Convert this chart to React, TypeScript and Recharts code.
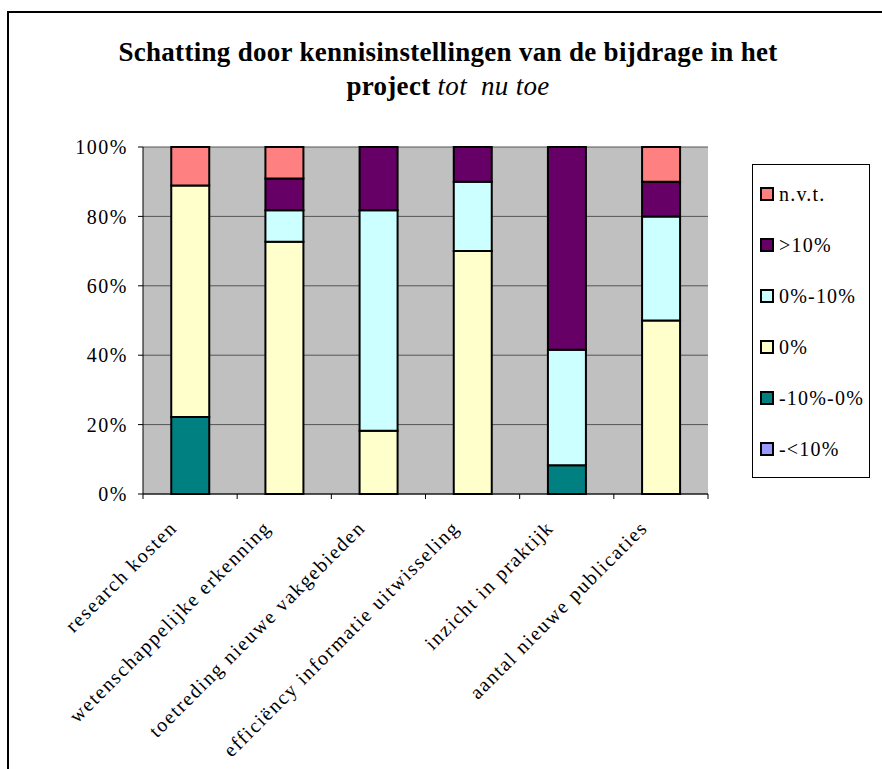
import React from "react";
import {
  BarChart, Bar, XAxis, YAxis, CartesianGrid, Legend,
} from "recharts";

const categories = [
  "research kosten",
  "wetenschappelijke erkenning",
  "toetreding nieuwe vakgebieden",
  "efficiëncy informatie uitwisseling",
  "inzicht in praktijk",
  "aantal nieuwe publicaties",
];

// percentages per answer, bottom of the stack first
const lessMin10 = [0, 0, 0, 0, 0, 0];
const min10to0  = [22.2, 0, 0, 0, 8.3, 0];
const zeroPct   = [66.7, 72.7, 18.2, 70, 0, 50];
const zeroTo10  = [0, 9.1, 63.6, 20, 33.3, 30];
const over10    = [0, 9.1, 18.2, 10, 58.4, 10];
const nvt       = [11.1, 9.1, 0, 0, 0, 10];

const yTicks = [0, 20, 40, 60, 80, 100];

const SERIES = [
  { key: "lessMin10", name: "-<10%",    color: "#9999FF", values: lessMin10 },
  { key: "min10to0",  name: "-10%-0%",  color: "#008080", values: min10to0 },
  { key: "zeroPct",   name: "0%",       color: "#FFFFCC", values: zeroPct },
  { key: "zeroTo10",  name: "0%-10%",   color: "#CCFFFF", values: zeroTo10 },
  { key: "over10",    name: ">10%",     color: "#660066", values: over10 },
  { key: "nvt",       name: "n.v.t.",   color: "#FF8080", values: nvt },
];

const data = categories.map((c, i) => {
  const row: Record<string, string | number> = { cat: c };
  SERIES.forEach(s => { row[s.key] = s.values[i]; });
  return row;
});

const W = 882;
const H = 769;
const PLOT_L = 143;
const PLOT_R = 708;
const PLOT_T = 147;
const PLOT_B = 494;
const BAND = (PLOT_R - PLOT_L) / categories.length;
const FONT = "'Liberation Serif', 'Times New Roman', serif";

function XTick({ x, y, payload, index }: any) {
  const left = x - BAND / 2;
  const ax = x - 12;
  const ay = y + 35;
  return (
    <g>
      <line x1={left} y1={y} x2={left} y2={y + 5} stroke="#000" strokeWidth={1} />
      {index === categories.length - 1 && (
        <line x1={left + BAND} y1={y} x2={left + BAND} y2={y + 5} stroke="#000" strokeWidth={1} />
      )}
      <text
        x={ax} y={ay}
        textAnchor="end"
        transform={`rotate(-45, ${ax}, ${ay})`}
        fontFamily={FONT} fontSize={20} letterSpacing={1.6} fill="#000"
      >
        {payload.value}
      </text>
    </g>
  );
}

// legend reads top-down in the reverse order of the stack
function LegendBox() {
  const items = [...SERIES].reverse();
  return (
    <div
      style={{
        boxSizing: "border-box", width: 118, height: 314,
        border: "1px solid #000", background: "#fff",
        paddingTop: 19, paddingLeft: 7,
        display: "flex", flexDirection: "column", gap: 31,
      }}
    >
      {items.map(s => (
        <div key={s.key} style={{ display: "flex", alignItems: "center", height: 20 }}>
          <span
            style={{
              boxSizing: "border-box", width: 14, height: 14, marginRight: 5,
              background: s.color, border: "2px solid #000", flexShrink: 0,
            }}
          />
          <span style={{ fontFamily: FONT, fontSize: 20, letterSpacing: 1.2, color: "#000", whiteSpace: "nowrap" }}>
            {s.name}
          </span>
        </div>
      ))}
    </div>
  );
}

export default function App() {
  return (
    <div style={{ position: "fixed", left: 0, top: 0, width: W, height: H, overflow: "hidden", background: "#fff" }}>
      <div
        style={{
          position: "absolute", left: 7, top: 11, width: W + 20, height: H + 20,
          border: "2px solid #000", boxSizing: "border-box",
        }}
      />
      <div
        style={{
          position: "absolute", left: 0, top: 35, width: 896, textAlign: "center",
          fontFamily: FONT, fontWeight: "bold", fontSize: 27, letterSpacing: 0.3,
          lineHeight: "34px", color: "#000",
        }}
      >
        Schatting door kennisinstellingen van de bijdrage in het
        <br />
        project <i style={{ fontWeight: "normal" }}>tot&nbsp; nu toe</i>
      </div>
      <div style={{ position: "absolute", left: 0, top: 0 }}>
        <BarChart
          width={W} height={H} data={data}
          margin={{ top: PLOT_T, right: W - PLOT_R, bottom: 0, left: PLOT_L - 70 }}
          barCategoryGap="30%"
        >
          <CartesianGrid vertical={false} stroke="#555" fill="#C0C0C0" fillOpacity={1} />
          <XAxis
            dataKey="cat" interval={0} height={H - PLOT_B}
            tick={<XTick />} tickLine={false} tickSize={0} tickMargin={0}
            axisLine={{ stroke: "#000" }}
          />
          <YAxis
            width={70} domain={[0, 100]} ticks={yTicks} interval={0}
            tickFormatter={(v) => `${v}%`}
            tick={{ fontFamily: FONT, fontSize: 20, letterSpacing: 1.5, fill: "#000" }}
            tickLine={{ stroke: "#000" }} tickSize={5} tickMargin={10}
            axisLine={{ stroke: "#000" }}
          />
          <YAxis yAxisId="edge" orientation="right" width={0} tick={false} tickLine={false} axisLine={{ stroke: "#808080" }} />
          {/* centred + middle so the legend reserves no room; placed by wrapperStyle */}
          <Legend
            content={<LegendBox />}
            layout="vertical" verticalAlign="middle" align="center"
            wrapperStyle={{ position: "absolute", left: 752, top: 164, right: "auto", bottom: "auto", width: 118 }}
          />
          {SERIES.map(s => (
            <Bar
              key={s.key} dataKey={s.key} name={s.name} stackId="a"
              fill={s.color} stroke="#000" strokeWidth={2}
              isAnimationActive={false}
            />
          ))}
        </BarChart>
      </div>
    </div>
  );
}
